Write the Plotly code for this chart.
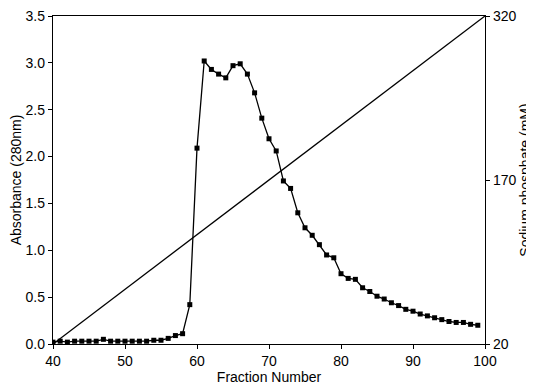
import plotly.graph_objects as go

fractions = list(range(40, 100))
absorbance = [
    0.02, 0.03, 0.02, 0.03, 0.03, 0.03, 0.03, 0.05, 0.03, 0.03,  # 40-49
    0.03, 0.03, 0.03, 0.03, 0.04, 0.04, 0.06, 0.09, 0.11, 0.42,  # 50-59
    2.09, 3.02, 2.93, 2.88, 2.84, 2.97, 2.99, 2.88, 2.68, 2.41,  # 60-69
    2.19, 2.06, 1.74, 1.66, 1.40, 1.24, 1.16, 1.06, 0.95, 0.92,  # 70-79
    0.75, 0.70, 0.69, 0.60, 0.56, 0.51, 0.48, 0.44, 0.41, 0.37,  # 80-89
    0.35, 0.32, 0.30, 0.28, 0.26, 0.24, 0.23, 0.23, 0.21, 0.20,  # 90-99
]
gradient_fraction = [40, 100]
gradient_mM = [20, 320]

x_ticks = [40, 50, 60, 70, 80, 90, 100]
y_ticks = [0.0, 0.5, 1.0, 1.5, 2.0, 2.5, 3.0, 3.5]
y2_ticks = [20, 170, 320]

FONT = "Liberation Sans, Arial, sans-serif"

fig = go.Figure()
fig.add_trace(go.Scatter(
    x=fractions, y=absorbance, mode="lines+markers",
    line=dict(color="black", width=1.3),
    marker=dict(symbol="square", size=5, color="black"),
    showlegend=False, hoverinfo="skip",
))
fig.add_trace(go.Scatter(
    x=gradient_fraction, y=gradient_mM, mode="lines", yaxis="y2",
    line=dict(color="black", width=1.3),
    showlegend=False, hoverinfo="skip",
))

axis_common = dict(
    showline=True, linecolor="black", linewidth=1.3,
    ticks="outside", ticklen=4, tickcolor="black", tickwidth=1,
    showgrid=False, zeroline=False, automargin=False,
    ticklabeloverflow="allow",
    tickfont=dict(family=FONT, size=14, color="black"),
)

# page body has an 8px default margin, so the figure is sized to fit the window
fig.update_layout(
    width=526, height=379,
    margin=dict(l=45, r=49, t=8, b=43),
    paper_bgcolor="white", plot_bgcolor="white",
    font=dict(family=FONT, color="black"),
    xaxis=dict(
        range=[40, 100], tickvals=x_ticks, mirror=True,
        title=dict(text="Fraction Number", font=dict(family=FONT, size=14), standoff=0),
        **axis_common,
    ),
    yaxis=dict(
        range=[0, 3.5], tickvals=y_ticks, tickformat=".1f",
        title=dict(text="Absorbance (280nm)", font=dict(family=FONT, size=14), standoff=4),
        **axis_common,
    ),
    yaxis2=dict(
        range=[20, 320], tickvals=y2_ticks, overlaying="y", side="right",
        title=dict(text="Sodium phosphate (mM)", font=dict(family=FONT, size=14), standoff=2),
        **axis_common,
    ),
)

fig.write_html("out.html")
